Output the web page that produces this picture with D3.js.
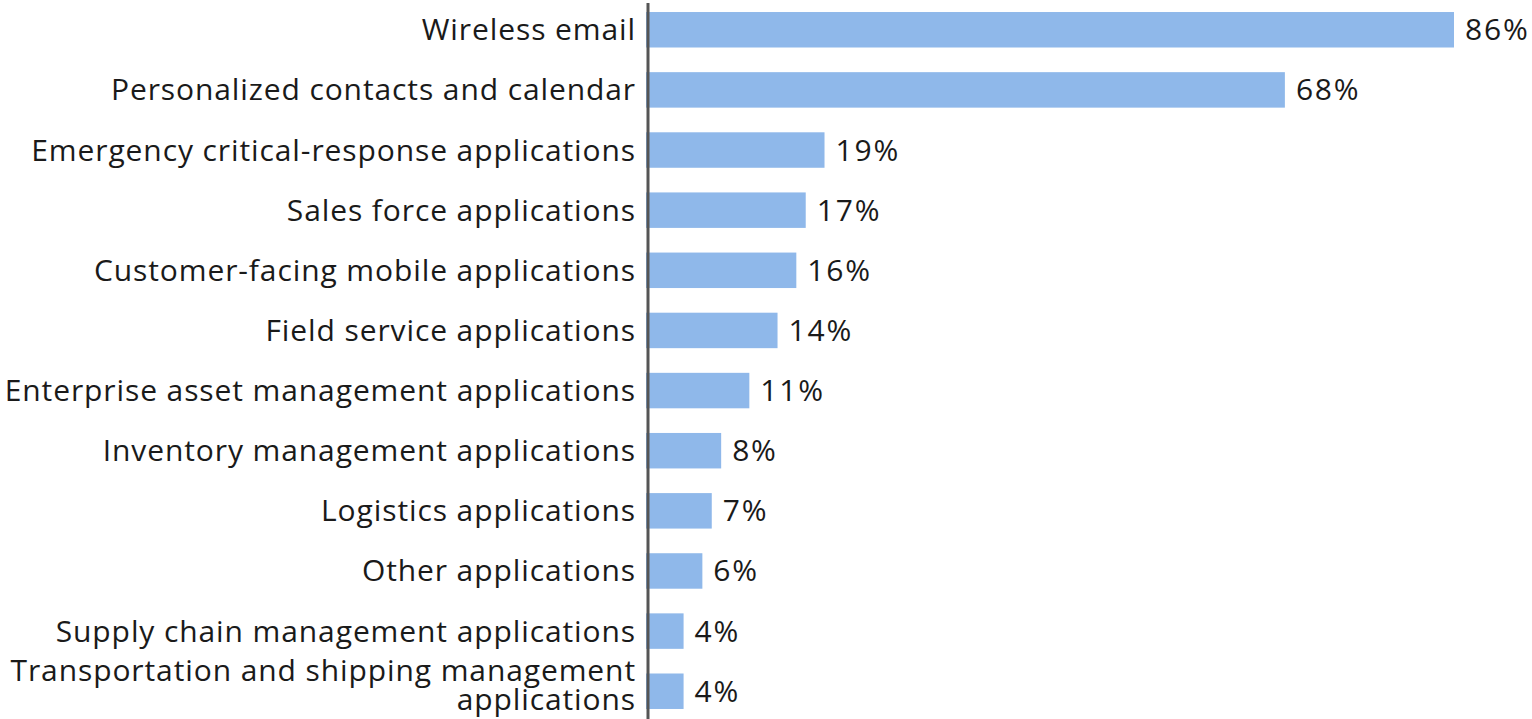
<!DOCTYPE html>
<html><head><meta charset="utf-8">
<script src="https://cdn.jsdelivr.net/npm/d3@7/dist/d3.min.js"></script>
<style>html,body{margin:0;padding:0;background:#fff;}svg{display:block;}</style>
</head><body>
<svg id="chart" width="1532" height="719"></svg>
<script>
const categories = [
  "Wireless email",
  "Personalized contacts and calendar",
  "Emergency critical-response applications",
  "Sales force applications",
  "Customer-facing mobile applications",
  "Field service applications",
  "Enterprise asset management applications",
  "Inventory management applications",
  "Logistics applications",
  "Other applications",
  "Supply chain management applications",
  "Transportation and shipping management|applications"
];
const values = [86, 68, 19, 17, 16, 14, 11, 8, 7, 6, 4, 4];
const valueLabels = ["86%","68%","19%","17%","16%","14%","11%","8%","7%","6%","4%","4%"];

const svg = d3.select("#chart");
const axisX = 646;
const x = d3.scaleLinear().domain([0, 86]).range([axisX, 1454]);
const y = d3.scaleBand().domain(d3.range(categories.length)).range([0, 721]).paddingInner(0.41).paddingOuter(0.2);

const font = "'Open Sans', 'Noto Sans', sans-serif";

svg.append("g").selectAll("rect").data(values).join("rect")
  .attr("x", axisX)
  .attr("y", (d,i) => y(i))
  .attr("width", d => x(d) - axisX)
  .attr("height", y.bandwidth())
  .attr("fill", "#8fb8ea");

svg.append("line")
  .attr("x1", axisX + 2).attr("x2", axisX + 2)
  .attr("y1", 3).attr("y2", 719)
  .attr("stroke", "#555").attr("stroke-width", 3);

const labels = svg.append("g").selectAll("text").data(categories).join("text")
  .attr("x", 636)
  .attr("text-anchor", "end")
  .attr("font-family", font)
  .attr("font-size", 30)
  .attr("letter-spacing", "0.9px")
  .attr("fill", "#1a1a1a");
labels.each(function(d, i) {
  const lines = d.split("|");
  const cy = y(i) + y.bandwidth()/2;
  const t = d3.select(this);
  lines.forEach((ln, k) => {
    t.append("tspan").attr("x", 636)
      .attr("y", cy + (k - (lines.length-1)/2) * 29 - (lines.length > 1 ? 6 : 0))
      .attr("dy", "0.35em")
      .text(ln);
  });
});

svg.append("g").selectAll("text").data(values).join("text")
  .attr("x", d => x(d) + 11)
  .attr("y", (d,i) => y(i) + y.bandwidth()/2)
  .attr("dy", "0.35em")
  .attr("font-family", font)
  .attr("font-size", 30)
  .attr("letter-spacing", "1.8px")
  .attr("fill", "#1a1a1a")
  .text((d,i) => valueLabels[i]);
</script>
</body></html>
